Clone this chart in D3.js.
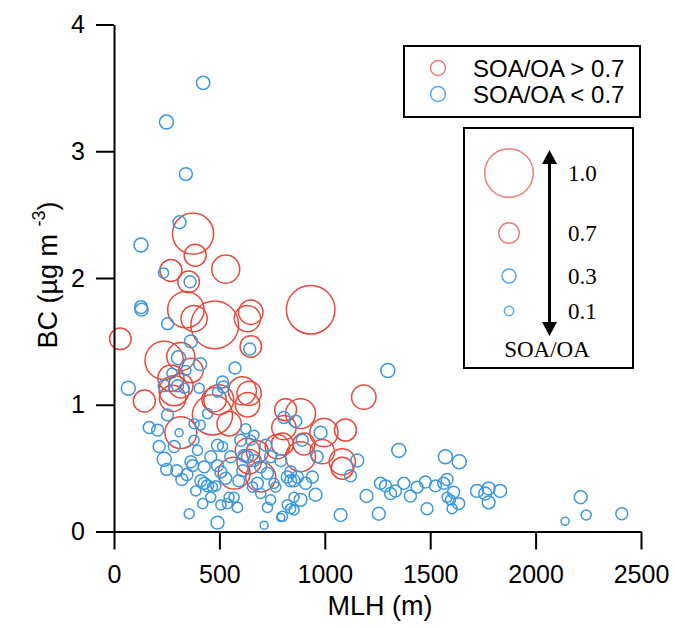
<!DOCTYPE html>
<html>
<head>
<meta charset="utf-8">
<script src="https://cdn.jsdelivr.net/npm/d3@7"></script>
<style>
  body { margin: 0; background: #fff; }
  text { font-family: "Liberation Sans", Arial, sans-serif; }
</style>
</head>
<body>
<div id="chart"></div>
<script>
// mixing layer height (m), black carbon (ug m-3) and SOA/OA ratio per sample
var mlh = [
  30, 375, 385, 270, 530, 354, 341, 380, 478, 633, 649, 933, 649, 238, 317, 365,
  270, 317, 285, 144, 609, 641, 475, 278, 467, 497, 633, 546, 317, 806, 633, 570,
  696, 641, 680, 775, 1185, 885, 996, 1098, 901, 988, 1083, 1083, 885, 814, 799,
  423, 249, 341, 311, 128, 235, 361, 128, 131, 254, 365, 644, 306, 409, 574, 275,
  341, 68, 238, 302, 333, 404, 491, 515, 519, 167, 207, 254, 214, 238, 250, 309,
  286, 380, 409, 444, 380, 396, 365, 373, 428, 459, 491, 515, 412, 428, 444, 467,
  483, 388, 530, 507, 491, 546, 507, 538, 570, 586, 491, 357, 712, 791, 601, 617,
  633, 664, 696, 728, 680, 696, 759, 767, 822, 838, 854, 870, 806, 791, 743, 854,
  822, 838, 657, 743, 728, 625, 649, 664, 980, 893, 964, 1154, 1122, 1351, 1572, 1638,
  909, 941, 838, 885, 956, 854, 799, 1075, 1198, 1256, 1264, 1288, 1312, 1335, 1375, 1406,
  1438, 1477, 1525, 1564, 1580, 1611, 1580, 1596, 1635, 1604, 1485, 1722, 1777, 1832, 1761, 1777,
  2214, 2140, 2240, 2409, 1299, 862, 346, 322, 421, 459, 611, 592, 554, 720, 298
];
var bc = [
  1.52, 2.35, 2.18, 2.06, 2.07, 1.97, 1.75, 1.68, 1.63, 1.68, 1.73, 1.75, 1.46, 1.35, 1.38, 1.27,
  1.21, 1.15, 1.11, 1.03, 1.11, 1.09, 1.04, 1.05, 0.92, 1.04, 1.00, 0.85, 0.78, 0.82, 0.64, 0.46,
  0.43, 0.55, 0.63, 0.67, 1.06, 0.93, 0.78, 0.80, 0.69, 0.63, 0.55, 0.50, 0.59, 0.96, 0.69,
  3.54, 3.23, 2.82, 2.44, 2.26, 2.04, 1.97, 1.77, 1.75, 1.64, 1.50, 1.44, 1.37, 1.32, 1.29, 1.25,
  1.27, 1.13, 1.15, 1.15, 1.13, 1.13, 1.10, 1.18, 1.14, 0.82, 0.80, 0.92, 0.67, 0.57, 0.49, 0.78,
  0.67, 0.85, 0.84, 0.93, 0.72, 0.64, 0.55, 0.52, 0.51, 0.59, 0.68, 0.67, 0.40, 0.38, 0.36, 0.35,
  0.36, 0.32, 0.42, 0.47, 0.52, 0.27, 0.21, 0.22, 0.27, 0.19, 0.07, 0.14, 0.05, 0.11, 0.72, 0.60,
  0.59, 0.56, 0.51, 0.46, 0.38, 0.30, 0.38, 0.35, 0.43, 0.40, 0.40, 0.43, 0.90, 0.56, 0.59, 0.27,
  0.21, 0.18, 0.35, 0.25, 0.19, 0.81, 0.72, 0.76, 0.78, 0.72, 0.59, 0.56, 0.44, 0.64, 0.59, 0.55,
  0.38, 0.43, 0.47, 0.25, 0.29, 0.17, 0.12, 0.13, 0.28, 0.14, 0.38, 0.36, 0.30, 0.32, 0.38, 0.28,
  0.35, 0.39, 0.36, 0.38, 0.41, 0.31, 0.27, 0.25, 0.22, 0.18, 0.18, 0.32, 0.34, 0.32, 0.30, 0.23,
  0.27, 0.08, 0.13, 0.14, 1.27, 0.87, 0.45, 0.41, 0.22, 0.27, 0.48, 0.40, 0.59, 0.68, 0.48
];
var soaoa = [
  0.71, 0.92, 0.715, 0.715, 0.78, 0.71, 0.87, 0.76, 0.99, 0.76, 0.74, 1.0, 0.71, 0.89, 0.78, 0.74,
  0.76, 0.74, 0.80, 0.715, 0.78, 0.74, 0.74, 0.76, 0.91, 0.80, 0.74, 0.74, 0.82, 0.74, 0.74, 0.82,
  0.80, 0.74, 0.715, 0.74, 0.74, 0.80, 0.78, 0.715, 0.715, 0.74, 0.76, 0.715, 0.80, 0.715, 0.715,
  0.27, 0.30, 0.25, 0.25, 0.30, 0.13, 0.21, 0.25, 0.25, 0.21, 0.25, 0.21, 0.30, 0.25, 0.21, 0.13,
  0.13, 0.30, 0.21, 0.21, 0.13, 0.13, 0.13, 0.21, 0.21, 0.21, 0.21, 0.21, 0.21, 0.30, 0.21, 0.04,
  0.21, 0.13, 0.13, 0.13, 0.13, 0.13, 0.21, 0.21, 0.21, 0.21, 0.21, 0.13, 0.21, 0.21, 0.21, 0.13,
  0.13, 0.13, 0.21, 0.21, 0.21, 0.13, 0.13, 0.13, 0.13, 0.13, 0.25, 0.13, 0.04, 0.04, 0.21, 0.21,
  0.21, 0.21, 0.21, 0.21, 0.21, 0.13, 0.13, 0.13, 0.21, 0.21, 0.21, 0.21, 0.21, 0.21, 0.21, 0.13,
  0.13, 0.13, 0.13, 0.13, 0.13, 0.13, 0.13, 0.13, 0.25, 0.21, 0.21, 0.25, 0.21, 0.30, 0.30, 0.30,
  0.21, 0.21, 0.21, 0.25, 0.25, 0.13, 0.13, 0.25, 0.25, 0.25, 0.21, 0.21, 0.21, 0.21, 0.21, 0.21,
  0.21, 0.21, 0.21, 0.21, 0.21, 0.21, 0.13, 0.13, 0.21, 0.13, 0.21, 0.25, 0.25, 0.25, 0.25, 0.25,
  0.25, 0.04, 0.13, 0.21, 0.30, 0.21, 0.21, 0.21, 0.13, 0.13, 0.21, 0.21, 0.21, 0.21, 0.21
];

var xTicks = [0, 500, 1000, 1500, 2000, 2500];
var yTicks = [0, 1, 2, 3, 4];
var legendLabels = ["SOA/OA > 0.7", "SOA/OA < 0.7"];
var sizeLegendValues = [1.0, 0.7, 0.3, 0.1];
var threshold = 0.7;

var width = 675;
var height = 628;
var red = "#e9493c";
var blue = "#3a98df";

var svg = d3.select("#chart").append("svg")
  .attr("width", width)
  .attr("height", height);

var xScale = d3.scaleLinear().domain([0, 2500]).range([114, 641]);
var yScale = d3.scaleLinear().domain([0, 4]).range([531.5, 24.5]);
// circle radius grows slowly up to 0.7 and then much faster
var rScale = d3.scaleLinear().domain([0.1, 0.3, 0.7, 1.0]).range([4.7, 7, 10.3, 24.3]);

function colorOf(v) {
  return v > threshold ? red : blue;
}

/*** points ***/
var points = mlh.map(function(m, i) {
  return {mlh: m, bc: bc[i], ratio: soaoa[i]};
});

svg.append("g").selectAll("circle")
  .data(points)
  .enter().append("circle")
  .attr("cx", function(d) { return xScale(d.mlh); })
  .attr("cy", function(d) { return yScale(d.bc); })
  .attr("r", function(d) { return rScale(d.ratio); })
  .attr("fill", "none")
  .attr("stroke", function(d) { return colorOf(d.ratio); })
  .attr("stroke-width", 1.5);

/*** axes ***/
var xAxis = d3.axisBottom(xScale).tickValues(xTicks).tickFormat(d3.format("d"))
  .tickSize(18).tickSizeOuter(0).tickPadding(16);
var xAxisGroup = svg.append("g").attr("transform", "translate(0," + yScale(0) + ")");
xAxis(xAxisGroup);

var yAxis = d3.axisLeft(yScale).tickValues(yTicks).tickFormat(d3.format("d"))
  .tickSize(18).tickSizeOuter(0).tickPadding(11);
var yAxisGroup = svg.append("g").attr("transform", "translate(" + xScale(0) + ",0)");
yAxis(yAxisGroup);

svg.selectAll(".domain, .tick line").attr("stroke", "#000").attr("stroke-width", 2);
svg.selectAll(".tick text")
  .attr("fill", "#000")
  .style("font-family", "'Liberation Sans', Arial, sans-serif")
  .style("font-size", "25px");

svg.append("text")
  .attr("x", 380).attr("y", 615)
  .attr("text-anchor", "middle")
  .style("font-size", "27px")
  .text("MLH (m)");

var yTitle = svg.append("text")
  .attr("transform", "translate(57,275) rotate(-90)")
  .attr("text-anchor", "middle")
  .style("font-size", "27px");
yTitle.append("tspan").text("BC (µg m ");
yTitle.append("tspan").attr("dy", -12).style("font-size", "18px").text("-3");
yTitle.append("tspan").attr("dy", 12).text(")");

/*** colour legend ***/
var leg = svg.append("g");
leg.append("rect")
  .attr("x", 404).attr("y", 46).attr("width", 236).attr("height", 71)
  .attr("fill", "#fff").attr("stroke", "#000").attr("stroke-width", 2);

legendLabels.forEach(function(label, i) {
  var cy = 68 + i * 26;
  leg.append("circle")
    .attr("cx", 438).attr("cy", cy).attr("r", 7.5)
    .attr("fill", "none")
    .attr("stroke", i === 0 ? "#f07e74" : "#55a9ea")
    .attr("stroke-width", 1.5);
  leg.append("text")
    .attr("x", 473).attr("y", cy + 9)
    .style("font-size", "24px")
    .text(label);
});

/*** size legend ***/
var sleg = svg.append("g");
sleg.append("rect")
  .attr("x", 464).attr("y", 128).attr("width", 169).attr("height", 240)
  .attr("fill", "#fff").attr("stroke", "#000").attr("stroke-width", 2);

var sizeY = [173, 233, 276, 311];
sizeLegendValues.forEach(function(v, i) {
  sleg.append("circle")
    .attr("cx", 509).attr("cy", sizeY[i]).attr("r", rScale(v))
    .attr("fill", "none")
    .attr("stroke", v >= threshold ? "#f07e74" : "#55a9ea")
    .attr("stroke-width", 1.5);
  sleg.append("text")
    .attr("x", 568).attr("y", sizeY[i] + 8)
    .style("font-family", "'Liberation Serif', 'Times New Roman', serif")
    .style("font-size", "23px")
    .text(d3.format(".1f")(v));
});

// double headed arrow
sleg.append("line")
  .attr("x1", 549.5).attr("x2", 549.5).attr("y1", 160).attr("y2", 325)
  .attr("stroke", "#000").attr("stroke-width", 3);
sleg.append("path")
  .attr("d", "M549.5,150 L542,164 L557,164 Z")
  .attr("fill", "#000");
sleg.append("path")
  .attr("d", "M549.5,336 L542,322 L557,322 Z")
  .attr("fill", "#000");

sleg.append("text")
  .attr("x", 547).attr("y", 357)
  .attr("text-anchor", "middle")
  .style("font-family", "'Liberation Serif', 'Times New Roman', serif")
  .style("font-size", "23px")
  .text("SOA/OA");
</script>
</body>
</html>
